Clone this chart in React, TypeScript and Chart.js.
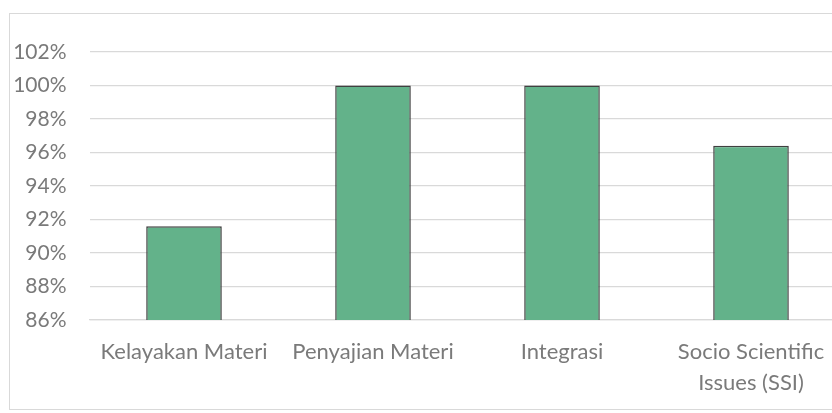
import React, { useEffect, useRef } from "react";
import { Chart, registerables } from "chart.js";

Chart.register(...registerables);

const categories: (string | string[])[] = [
  "Kelayakan Materi",
  "Penyajian Materi",
  "Integrasi",
  ["Socio Scientific", "Issues (SSI)"],
];
const values: number[] = [91.6, 100, 100, 96.4];
const yMin = 86;
const yMax = 102;
const yStep = 2;

export default function App() {
  const ref = useRef<HTMLCanvasElement | null>(null);

  useEffect(() => {
    if (!ref.current) return;
    const family = "Lato, 'Noto Sans', sans-serif";
    const chart = new Chart(ref.current, {
      type: "bar",
      data: {
        labels: categories,
        datasets: [
          {
            data: values,
            backgroundColor: "#63b28a",
            borderColor: "#404040",
            borderWidth: 1.5,
            barPercentage: 0.4,
            categoryPercentage: 1,
          },
        ],
      },
      options: {
        animation: false,
        responsive: false,
        maintainAspectRatio: false,
        layout: { padding: { left: 0, right: 14.5, top: 52, bottom: 0 } },
        plugins: { legend: { display: false }, tooltip: { enabled: false } },
        scales: {
          x: {
            grid: { display: false, drawTicks: false },
            border: { display: true, color: "#d9d9d9", width: 1.3 },
            ticks: {
              color: "#7a7a7a",
              font: { family, size: 22, lineHeight: 1.4 },
              padding: 16.5,
              maxRotation: 0,
              autoSkip: false,
            },
            afterFit: (s: any) => {
              s.height = 93;
            },
          },
          y: {
            min: yMin,
            max: yMax,
            grid: { color: "#d9d9d9", lineWidth: 1.3, drawTicks: false },
            border: { display: false },
            ticks: {
              stepSize: yStep,
              color: "#7a7a7a",
              font: { family, size: 21 },
              padding: 23,
              callback: (v: any) => `${v}%`,
            },
            afterFit: (s: any) => {
              s.width = 89.5;
            },
          },
        },
      },
    });
    return () => chart.destroy();
  }, []);

  return (
    <div
      style={{
        position: "fixed",
        left: 0,
        top: 0,
        width: 832,
        height: 413,
        overflow: "hidden",
        background: "#ffffff",
      }}
    >
      <div
        style={{
          position: "absolute",
          left: 9,
          top: 13,
          width: 900,
          height: 397,
          border: "1.5px solid #d9d9d9",
          boxSizing: "border-box",
        }}
      />
      <canvas
        ref={ref}
        width={860}
        height={413}
        style={{ position: "absolute", left: 0, top: 0, width: 860, height: 413 }}
      />
    </div>
  );
}
